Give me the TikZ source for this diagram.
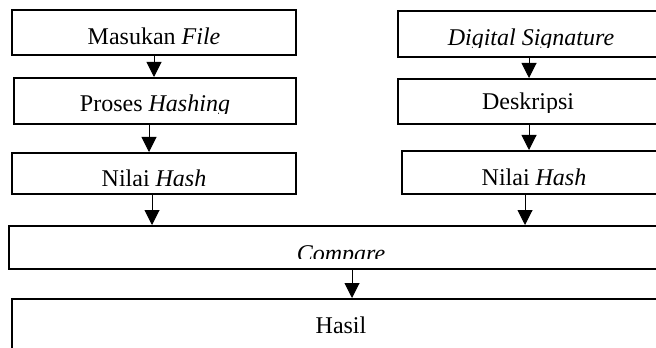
\documentclass[tikz,border=0pt]{standalone}
\usepackage{fontspec}
\setmainfont{Liberation Serif}
\usetikzlibrary{arrows.meta}
\begin{document}
\begin{tikzpicture}[x=0.5pt,y=-0.5pt,
  box/.style={draw, line width=1pt, inner sep=0pt},
  lbl/.style={anchor=base, inner sep=0pt, font=\fontsize{12}{14}\selectfont},
  arr/.style={line width=0.5pt, -{Triangle[width=7.5pt,length=7.5pt]}}]
\useasboundingbox (0,0) rectangle (656,347);
\clip (0,0) rectangle (656,347);

% left column: hashing of the received file
\node[box, minimum width=142pt, minimum height=22.5pt] (inFile)  at (154,32.5)  {};
\node[box, minimum width=141pt, minimum height=23pt]   (hashing) at (155,101)   {};
\node[box, minimum width=142pt, minimum height=20.5pt] (hashL)   at (154,173.5) {};

% right column: decryption of the signature
\node[box, minimum width=134pt, minimum height=23pt]   (sig)     at (532,34)    {};
\node[box, minimum width=134pt, minimum height=22.5pt] (desk)    at (532,101.5) {};
\node[box, minimum width=132pt, minimum height=21.5pt] (hashR)   at (534,172.5) {};

% comparison and result
\node[box, minimum width=331.5pt, minimum height=21.5pt] (cmp)   at (340.5,247.5) {};
\node[box, minimum width=329pt,   minimum height=35.5pt] (result) at (341,334.5) {};

% labels (text boxes cut off at their lower margin)
\node[lbl] (tFile) at (154,45) {Masukan \textit{File}};
\begin{scope}
  \clip (0,0) rectangle (656,113.5);
  \node[lbl] (tHashing) at (155,112) {Proses \textit{Hashing}};
\end{scope}
\begin{scope}
  \clip (0,140) rectangle (330,185.5);
  \node[lbl] (tHashL) at (154,186) {Nilai \textit{Hash}};
\end{scope}
\begin{scope}
  \clip (0,0) rectangle (656,47.5);
  \node[lbl] (tSig) at (531,46) {\textit{Digital Signature}};
\end{scope}
\begin{scope}
  \clip (0,60) rectangle (656,112.5);
  \node[lbl] (tDesk) at (528,110) {Deskripsi};
\end{scope}
\node[lbl] (tHashR) at (534,185) {Nilai \textit{Hash}};
\begin{scope}
  \clip (0,230) rectangle (656,258.5);
  \node[lbl] (tCmp) at (341,261) {\textit{Compare}};
\end{scope}
\node[lbl] (tResult) at (341,333) {Hasil};

% connector positions
\coordinate (xa) at (154,0);
\coordinate (xb) at (149,0);
\coordinate (xc) at (152,0);
\coordinate (xd) at (529,0);
\coordinate (xe) at (525,0);
\coordinate (xf) at (352,0);

\draw[arr] (inFile.south -| xa) -- (hashing.north -| xa);
\draw[arr] (hashing.south -| xb) -- (hashL.north -| xb);
\draw[arr] (hashL.south -| xc) -- (cmp.north -| xc);
\draw[arr] (sig.south -| xd) -- (desk.north -| xd);
\draw[arr] (desk.south -| xd) -- (hashR.north -| xd);
\draw[arr] (hashR.south -| xe) -- (cmp.north -| xe);
\draw[arr] (cmp.south -| xf) -- (result.north -| xf);
\end{tikzpicture}
\end{document}
